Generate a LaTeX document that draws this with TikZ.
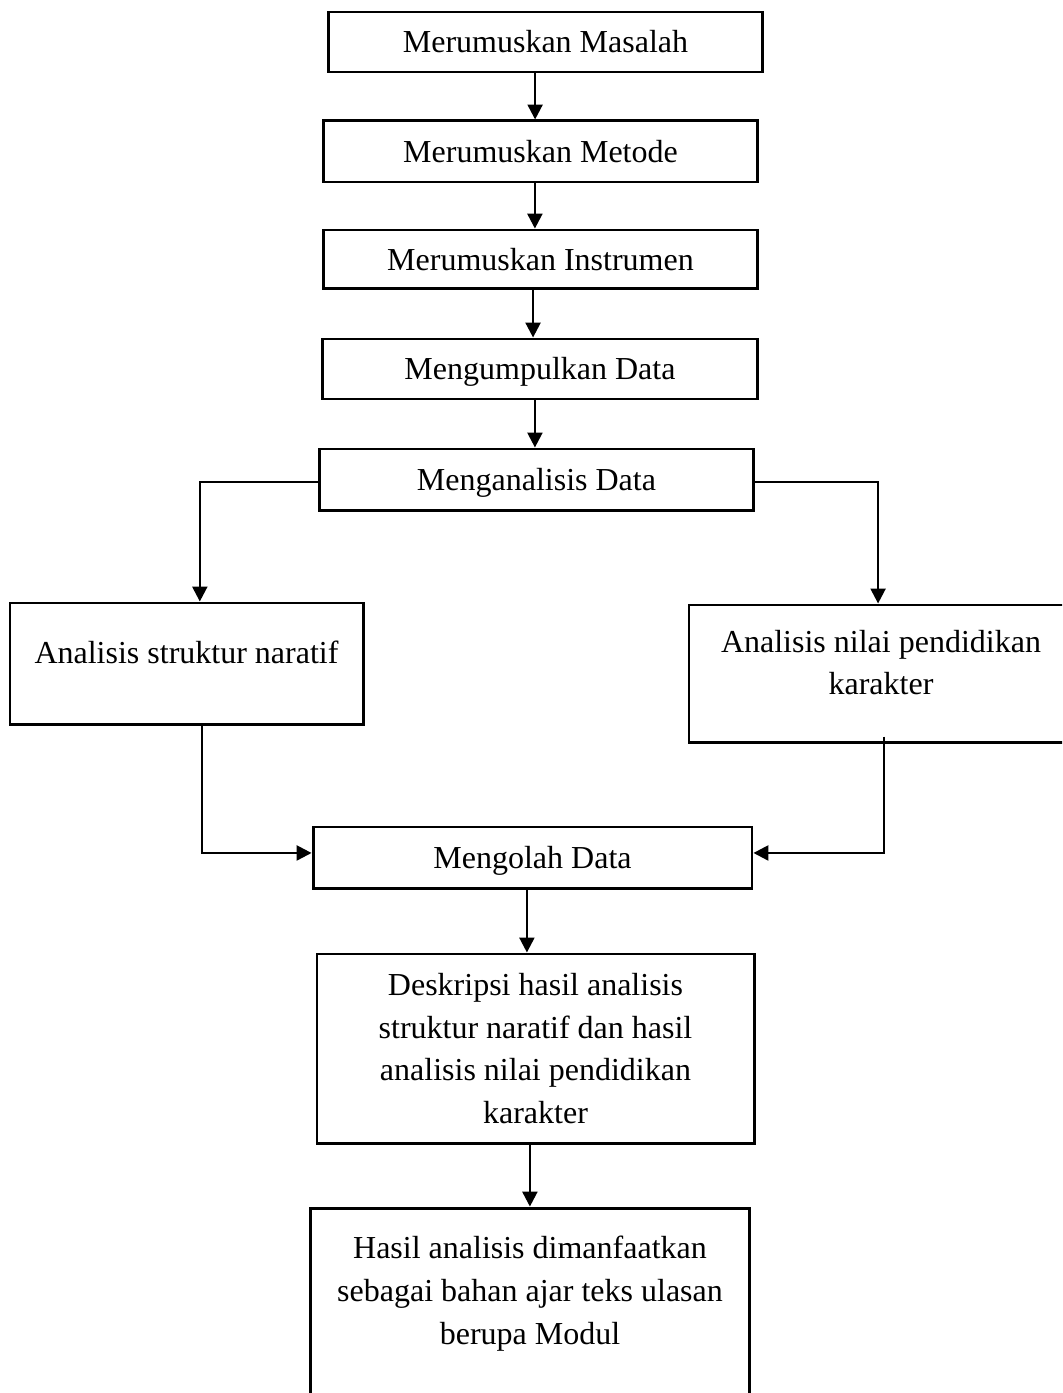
\documentclass[tikz,border=0pt]{standalone}
\usepackage{fontspec}
\setmainfont{Liberation Serif}
\usepackage{tikz}
\usetikzlibrary{shapes,arrows.meta,positioning}

\begin{document}
\begin{tikzpicture}[x=0.375pt, y=-0.375pt,
  font=\fontsize{12pt}{16pt}\selectfont,
  kotak/.style={rectangle, draw, line width=1.1pt, minimum width=163pt, minimum height=22.5pt, inner sep=0pt},
  satu/.style={kotak, text height=8pt, text depth=0pt},
  panah/.style={line width=0.9pt, -{Triangle[width=5.6pt,length=5.6pt]}}]
\useasboundingbox (0,0) rectangle (1062,1393);
\clip (0,0) rectangle (1062,1393);
\node (masalah) [satu] at (545.5,42) {Merumuskan Masalah};
\node (metode) [satu, minimum height=22.9pt] at (540.5,151.5) {Merumuskan Metode};
\node (instrumen) [satu, minimum height=22.1pt] at (540.5,259.5) {Merumuskan Instrumen};
\node (kumpul) [satu] at (540,369) {Mengumpulkan Data};
\node (analisis) [satu, minimum height=22.9pt] at (536.5,479.5) {Menganalisis Data};
\node (naratif) [kotak, minimum width=132.4pt, minimum height=45.4pt] at (186.5,663.5) {};
\node (tnaratif) at ([yshift=4.3pt]naratif.center) {Analisis struktur naratif};
\node (karakter) [kotak, minimum width=144pt, minimum height=51.4pt] at (881,673.5) {};
\node (tkarakter) [align=center] at ([yshift=4.1pt]karakter.center) {Analisis nilai pendidikan\\karakter};
\node (olah) [satu, minimum width=164.6pt, minimum height=22.9pt] at (532.5,857.5) {Mengolah Data};
\node (deskripsi) [kotak, align=center, minimum width=163.9pt, minimum height=70.9pt] at (535.5,1048.5) {Deskripsi hasil analisis\\struktur naratif dan hasil\\analisis nilai pendidikan\\karakter};
\node (hasil) [kotak, minimum width=164.3pt, minimum height=80.6pt] at (530,1315.5) {};
\node (thasil) [align=center] at ([yshift=-32.6pt]hasil.north) {Hasil analisis dimanfaatkan\\sebagai bahan ajar teks ulasan\\berupa Modul};

% alur utama
\draw[panah] ([xshift=-3.9pt]masalah.south) -- ([xshift=-3.9pt]masalah.south |- metode.north);
\draw[panah] ([xshift=-2.1pt]metode.south) -- ([xshift=-2.1pt]metode.south |- instrumen.north);
\draw[panah] ([xshift=-2.8pt]instrumen.south) -- ([xshift=-2.8pt]instrumen.south |- kumpul.north);
\draw[panah] ([xshift=-1.9pt]kumpul.south) -- ([xshift=-1.9pt]kumpul.south |- analisis.north);

% cabang analisis
\draw[panah] ([yshift=-0.9pt]analisis.west) -| ([xshift=5pt]naratif.north);
\draw[panah] ([yshift=-0.9pt]analisis.east) -| ([xshift=-1.1pt]karakter.north);
\draw[panah] ([xshift=5.8pt]naratif.south) |- ([yshift=1.7pt]olah.west);
\draw[panah] ([xshift=1.1pt,yshift=2.6pt]karakter.south) |- ([yshift=1.7pt]olah.east);

% hasil
\draw[panah] ([xshift=-2.1pt]olah.south) -- ([xshift=-2.1pt]olah.south |- deskripsi.north);
\draw[panah] ([xshift=-2.1pt]deskripsi.south) -- ([xshift=-2.1pt]deskripsi.south |- hasil.north);
\end{tikzpicture}
\end{document}
